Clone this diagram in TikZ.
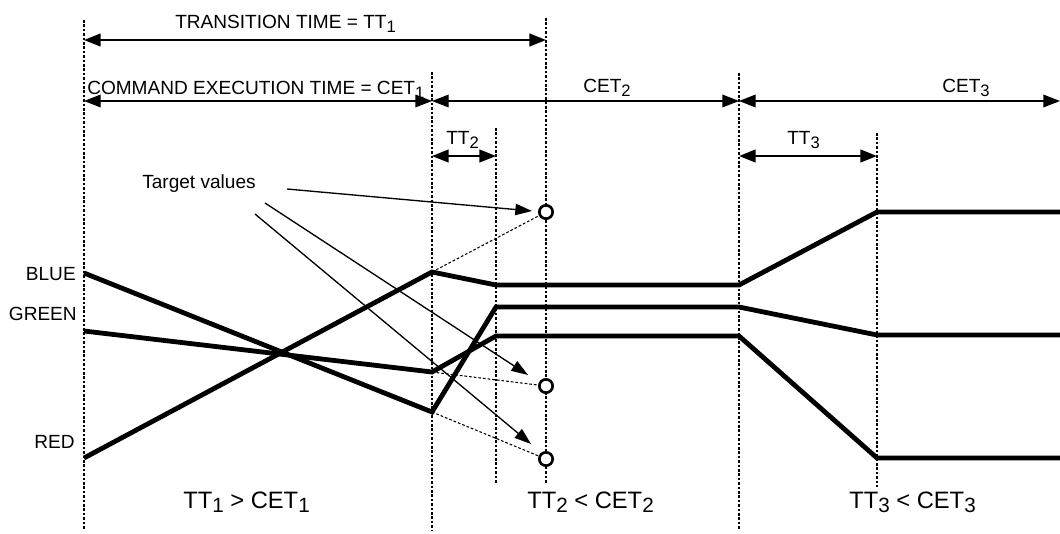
\documentclass[tikz,border=0pt]{standalone}
\usepackage{fontspec}
\usepackage{graphicx}
\setmainfont{Liberation Sans}
\usetikzlibrary{arrows.meta}
\newcommand\lsub[1]{\raisebox{-0.21em}{\scalebox{0.87}{#1}}}
\begin{document}
\begin{tikzpicture}[x=0.75pt,y=-0.75pt,
  vguide/.style={line width=0.8pt, dash pattern=on 2pt off 1.3pt},
  tdash/.style={line width=0.8pt, dash pattern=on 2pt off 1.5pt},
  sigline/.style={line width=3.6pt},
  dimarrow/.style={line width=1pt, {Triangle[length=12.5pt,width=9.5pt]}-{Triangle[length=12.5pt,width=9.5pt]}},
  dimthick/.style={line width=1.6pt, {Triangle[length=12.5pt,width=9.5pt]}-{Triangle[length=12.5pt,width=9.5pt]}},
  ptr/.style={line width=1pt, -{Triangle[length=12.5pt,width=8.5pt]}},
  tgt/.style={circle, draw, line width=2pt, inner sep=0pt, minimum size=10pt, fill=white},
  lbl/.style={inner sep=0pt, font=\fontsize{14.3}{16}\selectfont},
  bigl/.style={inner sep=0pt, font=\fontsize{17.8}{20}\selectfont}
]
\useasboundingbox (0,0) rectangle (1060,533);
% guide lines
\coordinate (g1t) at (84,20);   \coordinate (g1b) at (84,530);
\coordinate (g2t) at (432,72);  \coordinate (g2b) at (432,530);
\coordinate (g3t) at (496,128); \coordinate (g3b) at (496,483);
\coordinate (g4t) at (546,18);  \coordinate (g4b) at (546,483);
\coordinate (g5t) at (739,73);  \coordinate (g5b) at (739,530);
\coordinate (g6t) at (877,133); \coordinate (g6b) at (877,487);
\foreach \i in {1,...,6} \draw[vguide] (g\i t) -- (g\i b);
% dimension arrows
\coordinate (tt1a) at (84,40);  \coordinate (tt1b) at (546,40);
\coordinate (c1a) at (84,101);  \coordinate (c1b) at (432,101);
\coordinate (c3a) at (739,101); \coordinate (c3b) at (1060,101);
\coordinate (tt2a) at (432,156); \coordinate (tt2b) at (496,156);
\coordinate (tt3a) at (739,156); \coordinate (tt3b) at (877,156);
\draw[dimthick] (tt1a) -- (tt1b);
\draw[dimarrow] (c1a) -- (c1b);
\draw[dimarrow] (c1b) -- (c3a);
\draw[dimarrow] (c3a) -- (c3b);
\draw[dimthick] (tt2a) -- (tt2b);
\draw[dimthick] (tt3a) -- (tt3b);
% texts
\node[lbl, anchor=base west] (ttl) at (175,28) {TRANSITION TIME = TT\lsub{1}};
\node[lbl, anchor=base west] (cetl) at (87,94) {COMMAND EXECUTION TIME = CET\lsub{1}};
\node[lbl, anchor=base west] (cet2) at (583,92) {CET\lsub{2}};
\node[lbl, anchor=base west] (cet3) at (942,92) {CET\lsub{3}};
\node[lbl, anchor=base west] (tt2l) at (446,144) {TT\lsub{2}};
\node[lbl, anchor=base west] (tt3l) at (787,144) {TT\lsub{3}};
\node[lbl, anchor=base west] (tv) at (142,188) {Target values};
\node[lbl, anchor=base east] (bl) at (76,280) {BLUE};
\node[lbl, anchor=base east] (gr) at (77,320) {GREEN};
\node[lbl, anchor=base east] (rd) at (75,448) {RED};
\node[bigl, anchor=base west] (b1) at (183,508) {TT\lsub{1} > CET\lsub{1}};
\node[bigl, anchor=base west] (b2) at (527,508) {TT\lsub{2} < CET\lsub{2}};
\node[bigl, anchor=base west] (b3) at (849,508) {TT\lsub{3} < CET\lsub{3}};
% signal points
\coordinate (r0) at (84,458);  \coordinate (r1) at (432,272); \coordinate (r2) at (496,285);
\coordinate (r3) at (739,285); \coordinate (r4) at (877,212); \coordinate (r5) at (1060,212);
\coordinate (b0) at (84,273);  \coordinate (b1p) at (432,412); \coordinate (b2p) at (496,307);
\coordinate (b3p) at (739,307); \coordinate (b4p) at (877,335); \coordinate (b5p) at (1060,335);
\coordinate (n0) at (84,331);  \coordinate (n1) at (432,372); \coordinate (n2) at (496,336);
\coordinate (n3) at (739,336); \coordinate (n4) at (877,458); \coordinate (n5) at (1060,458);
% targets
\node[tgt] (t1) at (546,212) {};
\node[tgt] (t2) at (546,386) {};
\node[tgt] (t3) at (546,459) {};
\draw[tdash] (r1) -- (t1);
\draw[tdash] (n1) -- (t2);
\draw[tdash] (b1p) -- (t3);
% signals
\draw[sigline] (r0) -- (r1) -- (r2) -- (r3) -- (r4) -- (r5);
\draw[sigline] (b0) -- (b1p) -- (b2p) -- (b3p) -- (b4p) -- (b5p);
\draw[sigline] (n0) -- (n1) -- (n2) -- (n3) -- (n4) -- (n5);
% pointers
\coordinate (p1s) at (287,189); \coordinate (p1e) at (532,211);
\coordinate (p2s) at (265,203); \coordinate (p2e) at (528,375);
\coordinate (p3s) at (255,214); \coordinate (p3e) at (531,444);
\draw[ptr] (p1s) -- (p1e);
\draw[ptr] (p2s) -- (p2e);
\draw[ptr] (p3s) -- (p3e);
\end{tikzpicture}
\end{document}
